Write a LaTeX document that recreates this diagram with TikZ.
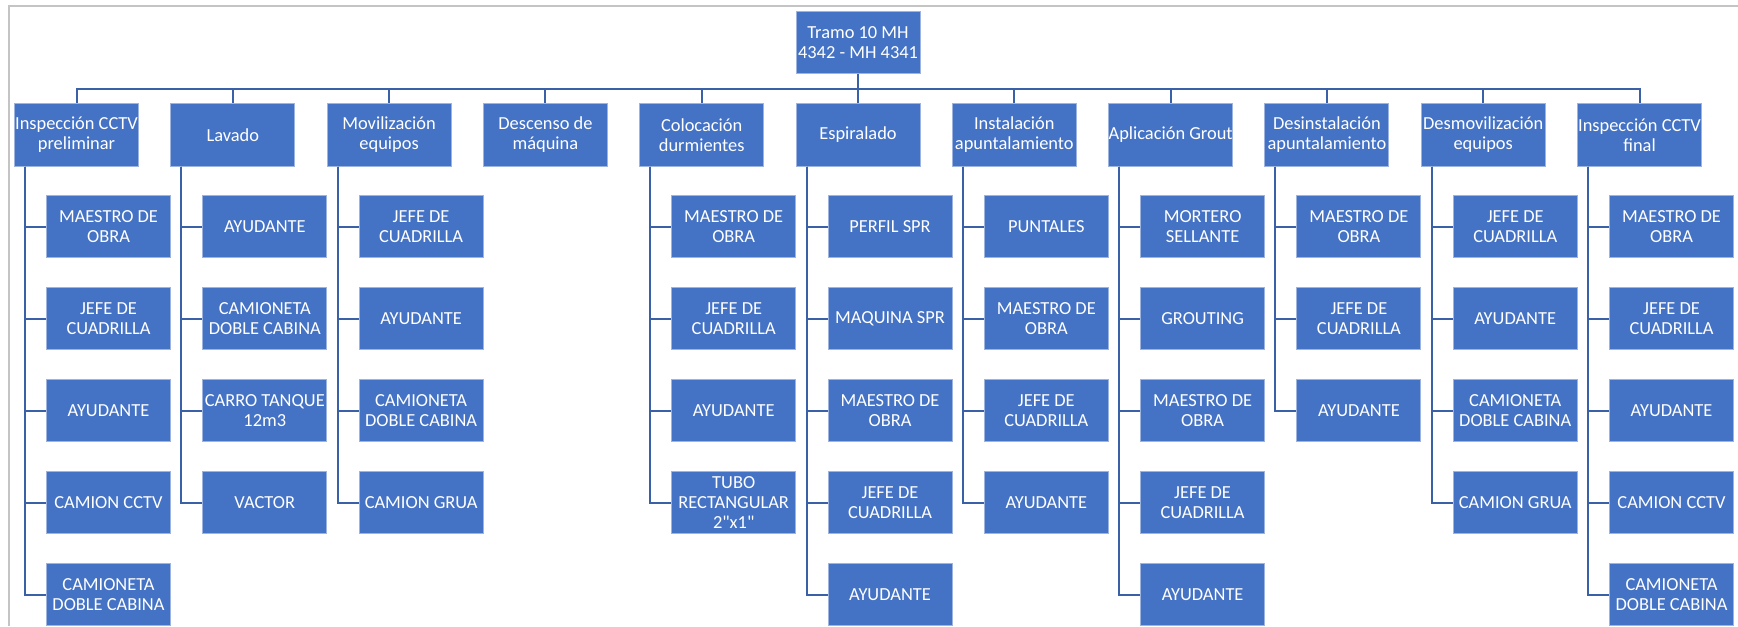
\documentclass[tikz,border=0pt]{standalone}
\usepackage{fontspec}
\setmainfont{Carlito}[Ligatures=TeXOff]
\usepackage{xcolor}
\definecolor{office}{HTML}{4472C4}
\definecolor{edge}{HTML}{9DB3E0}
\definecolor{linkblue}{HTML}{3A61A8}
\definecolor{framegray}{HTML}{C4C4C4}
\usepackage{tikz}
\usetikzlibrary{positioning}

\begin{document}
\begin{tikzpicture}[
    every node/.style={font=\fontsize{9.2pt}{10pt}\selectfont, align=center, text=white},
    task_box/.style={draw=edge, line width=0.5pt, fill=office, minimum width=62pt, minimum height=31pt, inner xsep=0pt, inner ysep=0.5pt},
    res_box/.style={task_box},
    tree_line/.style={draw=linkblue, line width=1pt},
    frame_line/.style={draw=framegray, line width=1pt}
]
  \useasboundingbox (0,0) rectangle (869pt,-313pt);
  \draw[frame_line] (4.5pt,-313pt) -- (4.5pt,-3.2pt) -- (869pt,-3.2pt);

  % Activity Nodes
  \node[task_box] (insp_pre) at (38.25pt,-67.5pt) {Inspección CCTV\\preliminar};
  \node[task_box, right=15.65pt of insp_pre] (lavado) {Lavado};
  \node[task_box, right=15.65pt of lavado] (moviliz) {Movilización\\equipos};
  \node[task_box, right=15.65pt of moviliz] (descenso) {Descenso de\\máquina};
  \node[task_box, right=15.65pt of descenso] (coloc) {Colocación\\durmientes};
  \node[task_box, right=15.65pt of coloc] (espiral) {Espiralado};
  \node[task_box, right=15.65pt of espiral] (inst_apunt) {Instalación\\apuntalamiento};
  \node[task_box, right=15.65pt of inst_apunt] (grout) {Aplicación Grout};
  \node[task_box, right=15.65pt of grout] (desinst_apunt) {Desinstalación\\apuntalamiento};
  \node[task_box, right=15.65pt of desinst_apunt] (desmoviliz) {Desmovilización\\equipos};
  \node[task_box, right=15.65pt of desmoviliz] (insp_fin) {Inspección CCTV\\final};

  % Root Node
  \node[task_box, above=14.5pt of espiral] (tramo) {Tramo 10 MH\\4342 - MH 4341};

  % Resource Nodes
  \node[res_box, below right=14.4pt and 16pt of insp_pre.south west] (insp_pre_1) {MAESTRO DE\\OBRA};
  \node[res_box, below=14.5pt of insp_pre_1] (insp_pre_2) {JEFE DE\\CUADRILLA};
  \node[res_box, below=14.5pt of insp_pre_2] (insp_pre_3) {AYUDANTE};
  \node[res_box, below=14.5pt of insp_pre_3] (insp_pre_4) {CAMION CCTV};
  \node[res_box, below=14.5pt of insp_pre_4] (insp_pre_5) {CAMIONETA\\DOBLE CABINA};

  \node[res_box, below right=14.4pt and 16pt of lavado.south west] (lavado_1) {AYUDANTE};
  \node[res_box, below=14.5pt of lavado_1] (lavado_2) {CAMIONETA\\DOBLE CABINA};
  \node[res_box, below=14.5pt of lavado_2] (lavado_3) {CARRO TANQUE\\12m3};
  \node[res_box, below=14.5pt of lavado_3] (lavado_4) {VACTOR};

  \node[res_box, below right=14.4pt and 16pt of moviliz.south west] (moviliz_1) {JEFE DE\\CUADRILLA};
  \node[res_box, below=14.5pt of moviliz_1] (moviliz_2) {AYUDANTE};
  \node[res_box, below=14.5pt of moviliz_2] (moviliz_3) {CAMIONETA\\DOBLE CABINA};
  \node[res_box, below=14.5pt of moviliz_3] (moviliz_4) {CAMION GRUA};

  \node[res_box, below right=14.4pt and 16pt of coloc.south west] (coloc_1) {MAESTRO DE\\OBRA};
  \node[res_box, below=14.5pt of coloc_1] (coloc_2) {JEFE DE\\CUADRILLA};
  \node[res_box, below=14.5pt of coloc_2] (coloc_3) {AYUDANTE};
  \node[res_box, below=14.5pt of coloc_3] (coloc_4) {TUBO\\RECTANGULAR\\2"x1"};

  \node[res_box, below right=14.4pt and 16pt of espiral.south west] (espiral_1) {PERFIL SPR};
  \node[res_box, below=14.5pt of espiral_1] (espiral_2) {MAQUINA SPR};
  \node[res_box, below=14.5pt of espiral_2] (espiral_3) {MAESTRO DE\\OBRA};
  \node[res_box, below=14.5pt of espiral_3] (espiral_4) {JEFE DE\\CUADRILLA};
  \node[res_box, below=14.5pt of espiral_4] (espiral_5) {AYUDANTE};

  \node[res_box, below right=14.4pt and 16pt of inst_apunt.south west] (inst_apunt_1) {PUNTALES};
  \node[res_box, below=14.5pt of inst_apunt_1] (inst_apunt_2) {MAESTRO DE\\OBRA};
  \node[res_box, below=14.5pt of inst_apunt_2] (inst_apunt_3) {JEFE DE\\CUADRILLA};
  \node[res_box, below=14.5pt of inst_apunt_3] (inst_apunt_4) {AYUDANTE};

  \node[res_box, below right=14.4pt and 16pt of grout.south west] (grout_1) {MORTERO\\SELLANTE};
  \node[res_box, below=14.5pt of grout_1] (grout_2) {GROUTING};
  \node[res_box, below=14.5pt of grout_2] (grout_3) {MAESTRO DE\\OBRA};
  \node[res_box, below=14.5pt of grout_3] (grout_4) {JEFE DE\\CUADRILLA};
  \node[res_box, below=14.5pt of grout_4] (grout_5) {AYUDANTE};

  \node[res_box, below right=14.4pt and 16pt of desinst_apunt.south west] (desinst_apunt_1) {MAESTRO DE\\OBRA};
  \node[res_box, below=14.5pt of desinst_apunt_1] (desinst_apunt_2) {JEFE DE\\CUADRILLA};
  \node[res_box, below=14.5pt of desinst_apunt_2] (desinst_apunt_3) {AYUDANTE};

  \node[res_box, below right=14.4pt and 16pt of desmoviliz.south west] (desmoviliz_1) {JEFE DE\\CUADRILLA};
  \node[res_box, below=14.5pt of desmoviliz_1] (desmoviliz_2) {AYUDANTE};
  \node[res_box, below=14.5pt of desmoviliz_2] (desmoviliz_3) {CAMIONETA\\DOBLE CABINA};
  \node[res_box, below=14.5pt of desmoviliz_3] (desmoviliz_4) {CAMION GRUA};

  \node[res_box, below right=14.4pt and 16pt of insp_fin.south west] (insp_fin_1) {MAESTRO DE\\OBRA};
  \node[res_box, below=14.5pt of insp_fin_1] (insp_fin_2) {JEFE DE\\CUADRILLA};
  \node[res_box, below=14.5pt of insp_fin_2] (insp_fin_3) {AYUDANTE};
  \node[res_box, below=14.5pt of insp_fin_3] (insp_fin_4) {CAMION CCTV};
  \node[res_box, below=14.5pt of insp_fin_4] (insp_fin_5) {CAMIONETA\\DOBLE CABINA};

  % Connecting Lines
  \draw[tree_line] (tramo.south) -- ++(0,-7.5pt) -| (insp_pre.north);
  \draw[tree_line] (tramo.south) -- ++(0,-7.5pt) -| (lavado.north);
  \draw[tree_line] (tramo.south) -- ++(0,-7.5pt) -| (moviliz.north);
  \draw[tree_line] (tramo.south) -- ++(0,-7.5pt) -| (descenso.north);
  \draw[tree_line] (tramo.south) -- ++(0,-7.5pt) -| (coloc.north);
  \draw[tree_line] (tramo.south) -- (espiral.north);
  \draw[tree_line] (tramo.south) -- ++(0,-7.5pt) -| (inst_apunt.north);
  \draw[tree_line] (tramo.south) -- ++(0,-7.5pt) -| (grout.north);
  \draw[tree_line] (tramo.south) -- ++(0,-7.5pt) -| (desinst_apunt.north);
  \draw[tree_line] (tramo.south) -- ++(0,-7.5pt) -| (desmoviliz.north);
  \draw[tree_line] (tramo.south) -- ++(0,-7.5pt) -| (insp_fin.north);

  \draw[tree_line] ([xshift=5.5pt]insp_pre.south west) |- (insp_pre_1.west);
  \draw[tree_line] ([xshift=5.5pt]insp_pre.south west) |- (insp_pre_2.west);
  \draw[tree_line] ([xshift=5.5pt]insp_pre.south west) |- (insp_pre_3.west);
  \draw[tree_line] ([xshift=5.5pt]insp_pre.south west) |- (insp_pre_4.west);
  \draw[tree_line] ([xshift=5.5pt]insp_pre.south west) |- (insp_pre_5.west);

  \draw[tree_line] ([xshift=5.5pt]lavado.south west) |- (lavado_1.west);
  \draw[tree_line] ([xshift=5.5pt]lavado.south west) |- (lavado_2.west);
  \draw[tree_line] ([xshift=5.5pt]lavado.south west) |- (lavado_3.west);
  \draw[tree_line] ([xshift=5.5pt]lavado.south west) |- (lavado_4.west);

  \draw[tree_line] ([xshift=5.5pt]moviliz.south west) |- (moviliz_1.west);
  \draw[tree_line] ([xshift=5.5pt]moviliz.south west) |- (moviliz_2.west);
  \draw[tree_line] ([xshift=5.5pt]moviliz.south west) |- (moviliz_3.west);
  \draw[tree_line] ([xshift=5.5pt]moviliz.south west) |- (moviliz_4.west);

  \draw[tree_line] ([xshift=5.5pt]coloc.south west) |- (coloc_1.west);
  \draw[tree_line] ([xshift=5.5pt]coloc.south west) |- (coloc_2.west);
  \draw[tree_line] ([xshift=5.5pt]coloc.south west) |- (coloc_3.west);
  \draw[tree_line] ([xshift=5.5pt]coloc.south west) |- (coloc_4.west);

  \draw[tree_line] ([xshift=5.5pt]espiral.south west) |- (espiral_1.west);
  \draw[tree_line] ([xshift=5.5pt]espiral.south west) |- (espiral_2.west);
  \draw[tree_line] ([xshift=5.5pt]espiral.south west) |- (espiral_3.west);
  \draw[tree_line] ([xshift=5.5pt]espiral.south west) |- (espiral_4.west);
  \draw[tree_line] ([xshift=5.5pt]espiral.south west) |- (espiral_5.west);

  \draw[tree_line] ([xshift=5.5pt]inst_apunt.south west) |- (inst_apunt_1.west);
  \draw[tree_line] ([xshift=5.5pt]inst_apunt.south west) |- (inst_apunt_2.west);
  \draw[tree_line] ([xshift=5.5pt]inst_apunt.south west) |- (inst_apunt_3.west);
  \draw[tree_line] ([xshift=5.5pt]inst_apunt.south west) |- (inst_apunt_4.west);

  \draw[tree_line] ([xshift=5.5pt]grout.south west) |- (grout_1.west);
  \draw[tree_line] ([xshift=5.5pt]grout.south west) |- (grout_2.west);
  \draw[tree_line] ([xshift=5.5pt]grout.south west) |- (grout_3.west);
  \draw[tree_line] ([xshift=5.5pt]grout.south west) |- (grout_4.west);
  \draw[tree_line] ([xshift=5.5pt]grout.south west) |- (grout_5.west);

  \draw[tree_line] ([xshift=5.5pt]desinst_apunt.south west) |- (desinst_apunt_1.west);
  \draw[tree_line] ([xshift=5.5pt]desinst_apunt.south west) |- (desinst_apunt_2.west);
  \draw[tree_line] ([xshift=5.5pt]desinst_apunt.south west) |- (desinst_apunt_3.west);

  \draw[tree_line] ([xshift=5.5pt]desmoviliz.south west) |- (desmoviliz_1.west);
  \draw[tree_line] ([xshift=5.5pt]desmoviliz.south west) |- (desmoviliz_2.west);
  \draw[tree_line] ([xshift=5.5pt]desmoviliz.south west) |- (desmoviliz_3.west);
  \draw[tree_line] ([xshift=5.5pt]desmoviliz.south west) |- (desmoviliz_4.west);

  \draw[tree_line] ([xshift=5.5pt]insp_fin.south west) |- (insp_fin_1.west);
  \draw[tree_line] ([xshift=5.5pt]insp_fin.south west) |- (insp_fin_2.west);
  \draw[tree_line] ([xshift=5.5pt]insp_fin.south west) |- (insp_fin_3.west);
  \draw[tree_line] ([xshift=5.5pt]insp_fin.south west) |- (insp_fin_4.west);
  \draw[tree_line] ([xshift=5.5pt]insp_fin.south west) |- (insp_fin_5.west);

\end{tikzpicture}
\end{document}
